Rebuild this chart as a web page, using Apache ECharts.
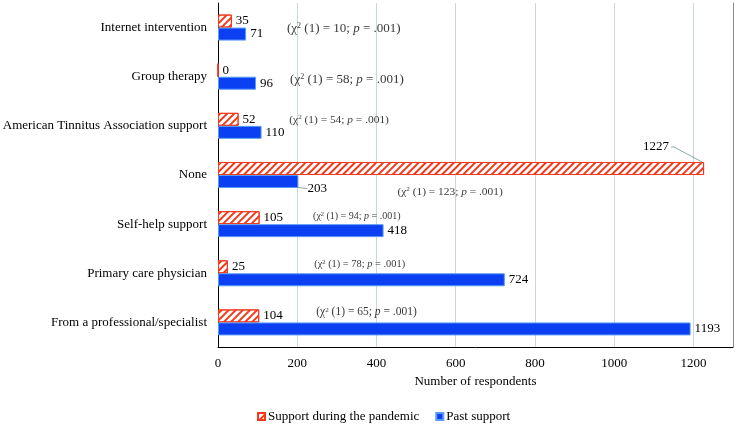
<!DOCTYPE html>
<html>
<head>
<meta charset="utf-8">
<script src="https://cdn.jsdelivr.net/npm/echarts@6/dist/echarts.min.js"></script>
<style>
html,body{margin:0;padding:0;background:#fff;}
#chart{width:738px;height:425px;}
</style>
</head>
<body>
<div id="chart"></div>
<script>
// ---- data ----
const categories = [
  "From a professional/specialist",
  "Primary care physician",
  "Self-help support",
  "None",
  "American Tinnitus Association support",
  "Group therapy",
  "Internet intervention"
];
const pandemicSupport = [104, 25, 105, 1227, 52, 0, 35];
const pastSupport = [1193, 724, 418, 203, 110, 96, 71];
const chiSquare = [65, 78, 94, 123, 54, 58, 10];
const pValues = [".001", ".001", ".001", ".001", ".001", ".001", ".001"];
const xTicks = [0, 200, 400, 600, 800, 1000, 1200];

// ---- annotation layout (x anchor in data units, y offset px, font size) ----
const annoX = [248, 243, 240, 453, 180, 182, 174];
const annoDy = [-10, -9, -8, 17, -6, 3, 1];
const annoFs = [11.5, 10.4, 10, 11.4, 11.4, 13, 13];

const FONT = "'Liberation Serif','Times New Roman',serif";
const RED = '#f2391c';
const BLUE = '#0b3ff2';
const GUIDE = '#8fa5a8';
const BAR_W = 13;
const NONE_IDX = 3;

const annoData = categories.map((c, i) => ({
  value: [annoX[i], c],
  label: {
    offset: [0, annoDy[i]],
    formatter: '(χ{s|2} (1) = ' + chiSquare[i] + '; {i|p} = ' + pValues[i] + ')',
    fontSize: annoFs[i],
    rich: {
      s: {fontSize: annoFs[i] * 0.62, fontFamily: FONT, color: '#000', padding: [0, 0, annoFs[i] * 0.45, 0]},
      i: {fontSize: annoFs[i], fontFamily: FONT, fontStyle: 'italic', color: '#000'}
    }
  }
}));

const pastData = pastSupport.map((v, i) => i === NONE_IDX
  ? {value: v, labelLine: {show: true, lineStyle: {color: GUIDE, width: 1}}}
  : v);

const chart = echarts.init(document.getElementById('chart'));
chart.setOption({
  animation: false,
  textStyle: {fontFamily: FONT},
  grid: {left: 218, right: 5, top: 3, bottom: 78, containLabel: false, outerBoundsMode: 'none'},
  legend: {
    data: ['Support during the pandemic', 'Past support'],
    left: 252, top: 405,
    itemWidth: 7, itemHeight: 7, itemGap: 16,
    textStyle: {fontFamily: FONT, fontSize: 13, color: '#000', padding: [0, 0, 0, -2]},
    icon: 'rect'
  },
  xAxis: {
    type: 'value', min: 0, max: 1300, interval: 200,
    name: 'Number of respondents', nameLocation: 'middle', nameGap: 28,
    nameTextStyle: {fontFamily: FONT, fontSize: 13, color: '#000'},
    axisLine: {show: true, lineStyle: {color: '#000', width: 1}},
    axisTick: {show: false},
    axisLabel: {fontFamily: FONT, fontSize: 13, color: '#000', margin: 10, showMaxLabel: false,
      formatter: v => xTicks.indexOf(v) >= 0 ? String(v) : ''},
    splitLine: {show: true, lineStyle: {color: '#c9d6da', width: 1}}
  },
  yAxis: [{
    type: 'category', data: categories,
    axisLine: {show: true, lineStyle: {color: '#000', width: 1}},
    axisTick: {show: false},
    axisLabel: {fontFamily: FONT, fontSize: 13, color: '#000', margin: 11},
    splitLine: {show: false}
  }, {
    type: 'category', data: categories, position: 'right',
    axisLine: {show: true, lineStyle: {color: '#8a8a8a', width: 1}},
    axisTick: {show: false}, axisLabel: {show: false}
  }],
  series: [{
    name: 'Support during the pandemic',
    type: 'bar',
    data: pandemicSupport,
    barWidth: BAR_W,
    barGap: '0%',
    itemStyle: {
      color: '#ffffff',
      borderColor: RED, borderWidth: 1,
      decal: {symbol: 'rect', symbolSize: 1, dashArrayX: [1, 0], dashArrayY: [2, 2.5], rotation: -Math.PI / 4, color: RED}
    },
    label: {show: true, position: 'right', distance: 4, fontFamily: FONT, fontSize: 13, color: '#000', offset: [0, 1]},
    labelLayout: p => p.dataIndex === NONE_IDX ? {dx: -65, dy: -22} : {},
    labelLine: {show: false}
  }, {
    name: 'Past support',
    type: 'bar',
    data: pastData,
    barWidth: BAR_W,
    itemStyle: {color: BLUE, borderColor: '#5a9cf5', borderWidth: 1},
    label: {show: true, position: 'right', distance: 4, fontFamily: FONT, fontSize: 13, color: '#000', offset: [0, 1]},
    labelLayout: p => p.dataIndex === NONE_IDX ? {dx: 5, dy: 7} : {},
    labelLine: {show: false}
  }, {
    name: 'chi',
    type: 'scatter',
    symbolSize: 0,
    silent: true,
    data: annoData,
    label: {show: true, position: 'right', distance: 0, fontFamily: FONT, color: '#000'}
  }]
});

// leader line for the 1227 label, positioned through the chart's own scales
const end = chart.convertToPixel({gridIndex: 0}, [pandemicSupport[NONE_IDX], categories[NONE_IDX]]);
const barTop = end[1] - BAR_W;
chart.setOption({
  graphic: [{
    type: 'polyline', silent: true,
    shape: {points: [[end[0] - 2, barTop], [end[0] - 30, barTop - 15], [end[0] - 33, barTop - 15]]},
    style: {stroke: GUIDE, lineWidth: 1, fill: null}
  }]
});
</script>
</body>
</html>
